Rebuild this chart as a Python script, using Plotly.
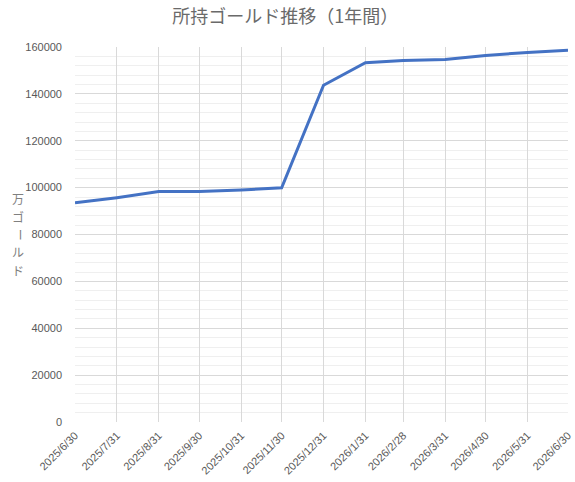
import plotly.graph_objects as go

# month-end dates and gold held (in 万ゴールド)
dates = ["2025-06-30", "2025-07-31", "2025-08-31", "2025-09-30", "2025-10-31",
         "2025-11-30", "2025-12-31", "2026-01-31", "2026-02-28", "2026-03-31",
         "2026-04-30", "2026-05-31", "2026-06-30"]
date_labels = ["2025/6/30", "2025/7/31", "2025/8/31", "2025/9/30", "2025/10/31",
               "2025/11/30", "2025/12/31", "2026/1/31", "2026/2/28", "2026/3/31",
               "2026/4/30", "2026/5/31", "2026/6/30"]
gold = [93500, 95700, 98300, 98300, 99000, 99900, 143700,
        153300, 154200, 154700, 156400, 157700, 158600]

y_title_chars = ["万", "ゴ", "ー", "ル", "ド"]

fig = go.Figure()

fig.add_trace(go.Scatter(
    x=dates,
    y=gold,
    mode='lines',
    line=dict(color='#4472C4', width=3),
    showlegend=False
))

# vertical axis title, one upright character per line (ー turned for vertical writing)
char_y = [0.597, 0.547, 0.498, 0.454, 0.405]
for ch, yy in zip(y_title_chars, char_y):
    fig.add_annotation(
        text=ch, xref='paper', yref='paper', x=-0.132, y=yy,
        showarrow=False, textangle=90 if ch == "ー" else 0,
        font=dict(family='Noto Sans CJK JP', size=12, color='#808080')
    )

fig.update_layout(
    width=575, height=482,
    margin=dict(l=75, r=7, t=47, b=60),
    paper_bgcolor='white',
    plot_bgcolor='white',
    title=dict(
        text='所持ゴールド推移（1年間）',
        x=0.496, xanchor='center', y=0.965, yanchor='middle',
        font=dict(family='Noto Sans CJK JP', size=18, color='#6a6a6a')
    ),
    font=dict(family='Liberation Sans', size=11, color='#595959'),
    xaxis=dict(
        type='date',
        range=[dates[0], dates[-1]],
        tickmode='array',
        tickvals=dates,
        ticktext=date_labels,
        tickangle=-45,
        showgrid=True,
        gridcolor='#d9d9d9',
        zeroline=False,
        showline=False,
        ticks='',
        ticklabelstandoff=4,
        automargin=False,
    ),
    yaxis=dict(
        range=[0, 160000],
        dtick=20000,
        tickformat='d',
        showgrid=True,
        gridcolor='#d9d9d9',
        minor=dict(dtick=4000, showgrid=True, gridcolor='#efefef'),
        zeroline=False,
        ticks='',
        ticklabelstandoff=12,
        automargin=False,
    ),
)

# drop the default 8px body margin so the figure fills the window
fig.write_html("out.html", config={'displayModeBar': False},
               post_script="document.body.style.margin='0';")
